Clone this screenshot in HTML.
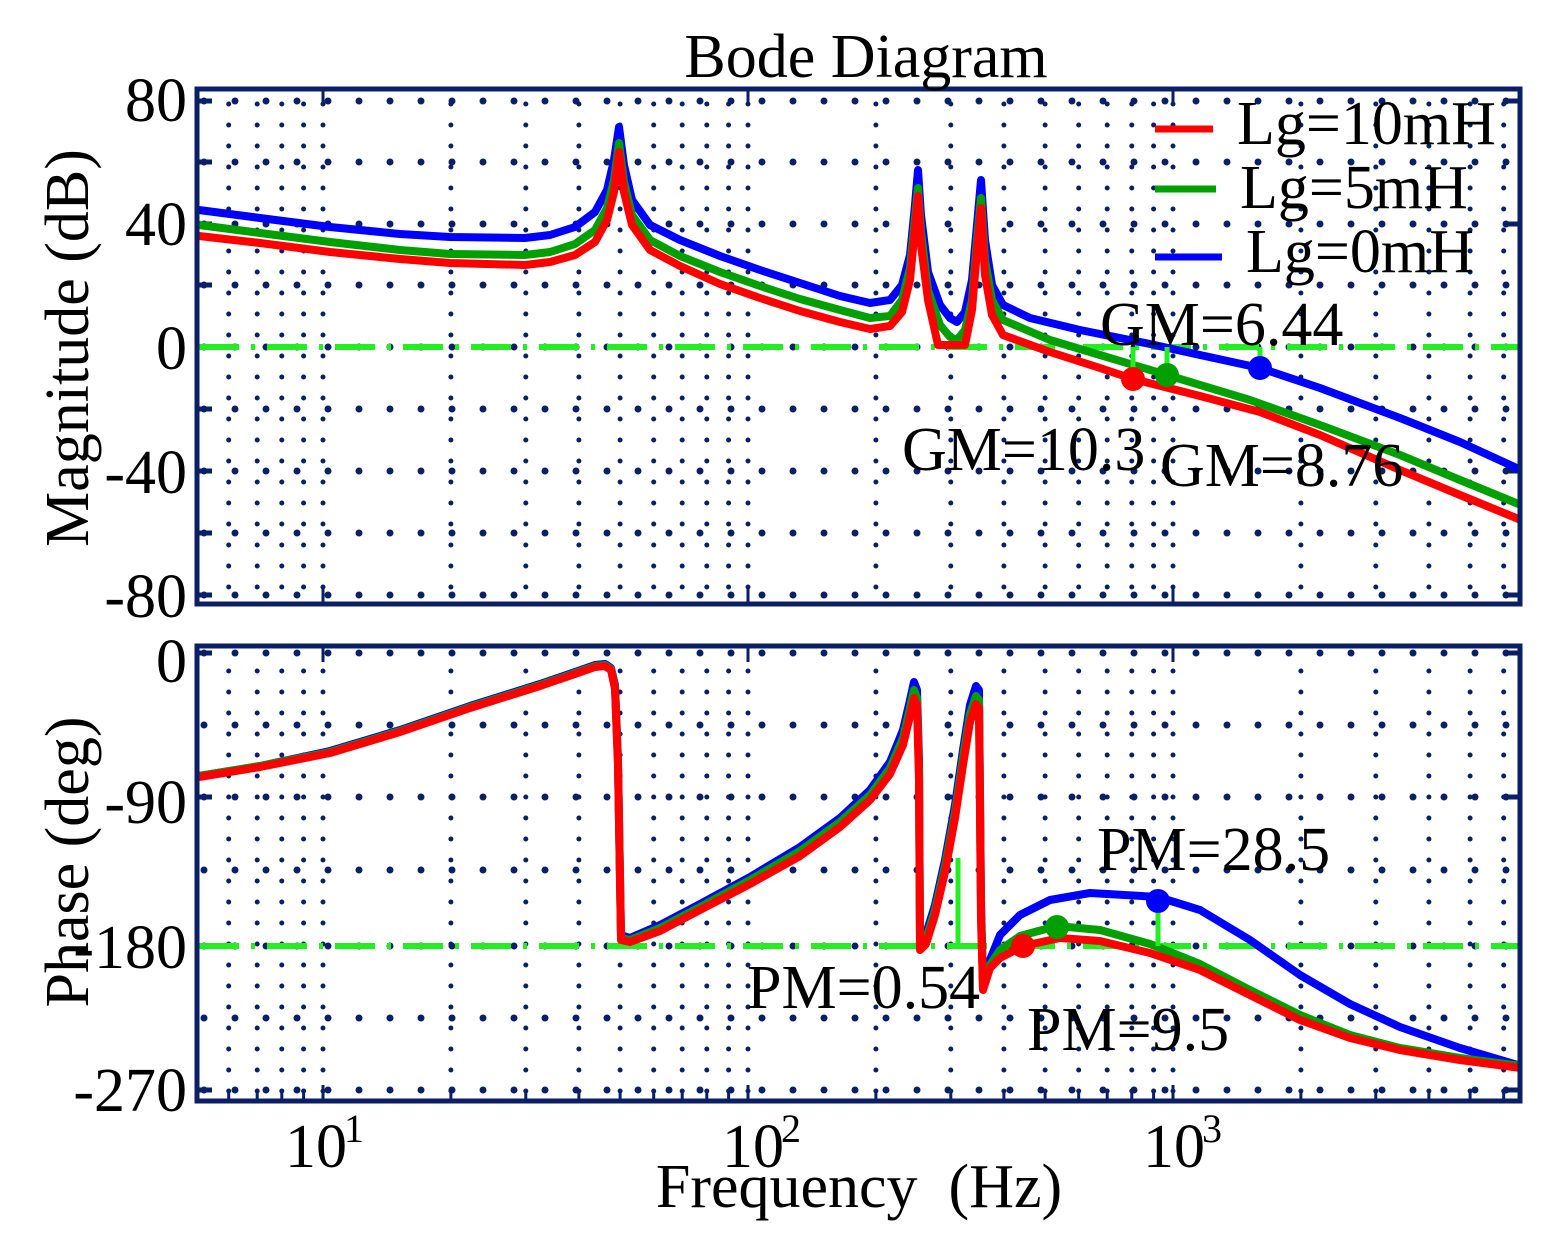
<!DOCTYPE html>
<html><head><meta charset="utf-8"><style>
html,body{margin:0;padding:0;background:#fff;}
svg{display:block;}
text{font-family:"Liberation Serif",serif;fill:#000;}
</style></head><body>
<svg width="1558" height="1253" viewBox="0 0 1558 1253" xmlns="http://www.w3.org/2000/svg">
<!-- vertical dotted grid -->
<g stroke="#0a1f66" stroke-width="5" stroke-linecap="round" stroke-dasharray="0 21">
<g>
<line x1="228.7" x2="228.7" y1="104" y2="602"/><line x1="257.2" x2="257.2" y1="104" y2="602"/><line x1="281.8" x2="281.8" y1="104" y2="602"/><line x1="303.6" x2="303.6" y1="104" y2="602"/>
<line x1="323" x2="323" y1="104" y2="602"/><line x1="450.9" x2="450.9" y1="104" y2="602"/><line x1="525.8" x2="525.8" y1="104" y2="602"/><line x1="578.9" x2="578.9" y1="104" y2="602"/><line x1="620.1" x2="620.1" y1="104" y2="602"/><line x1="653.7" x2="653.7" y1="104" y2="602"/><line x1="682.2" x2="682.2" y1="104" y2="602"/><line x1="706.8" x2="706.8" y1="104" y2="602"/><line x1="728.6" x2="728.6" y1="104" y2="602"/>
<line x1="748" x2="748" y1="104" y2="602"/><line x1="875.9" x2="875.9" y1="104" y2="602"/><line x1="950.8" x2="950.8" y1="104" y2="602"/><line x1="1003.9" x2="1003.9" y1="104" y2="602"/><line x1="1045.1" x2="1045.1" y1="104" y2="602"/><line x1="1078.7" x2="1078.7" y1="104" y2="602"/><line x1="1107.2" x2="1107.2" y1="104" y2="602"/><line x1="1131.8" x2="1131.8" y1="104" y2="602"/><line x1="1153.6" x2="1153.6" y1="104" y2="602"/>
<line x1="1173" x2="1173" y1="104" y2="602"/><line x1="1300.9" x2="1300.9" y1="104" y2="602"/><line x1="1375.8" x2="1375.8" y1="104" y2="602"/><line x1="1428.9" x2="1428.9" y1="104" y2="602"/><line x1="1470.1" x2="1470.1" y1="104" y2="602"/><line x1="1503.7" x2="1503.7" y1="104" y2="602"/>
</g>
<g>
<line x1="228.7" x2="228.7" y1="671" y2="1099"/><line x1="257.2" x2="257.2" y1="671" y2="1099"/><line x1="281.8" x2="281.8" y1="671" y2="1099"/><line x1="303.6" x2="303.6" y1="671" y2="1099"/>
<line x1="323" x2="323" y1="671" y2="1099"/><line x1="450.9" x2="450.9" y1="671" y2="1099"/><line x1="525.8" x2="525.8" y1="671" y2="1099"/><line x1="578.9" x2="578.9" y1="671" y2="1099"/><line x1="620.1" x2="620.1" y1="671" y2="1099"/><line x1="653.7" x2="653.7" y1="671" y2="1099"/><line x1="682.2" x2="682.2" y1="671" y2="1099"/><line x1="706.8" x2="706.8" y1="671" y2="1099"/><line x1="728.6" x2="728.6" y1="671" y2="1099"/>
<line x1="748" x2="748" y1="671" y2="1099"/><line x1="875.9" x2="875.9" y1="671" y2="1099"/><line x1="950.8" x2="950.8" y1="671" y2="1099"/><line x1="1003.9" x2="1003.9" y1="671" y2="1099"/><line x1="1045.1" x2="1045.1" y1="671" y2="1099"/><line x1="1078.7" x2="1078.7" y1="671" y2="1099"/><line x1="1107.2" x2="1107.2" y1="671" y2="1099"/><line x1="1131.8" x2="1131.8" y1="671" y2="1099"/><line x1="1153.6" x2="1153.6" y1="671" y2="1099"/>
<line x1="1173" x2="1173" y1="671" y2="1099"/><line x1="1300.9" x2="1300.9" y1="671" y2="1099"/><line x1="1375.8" x2="1375.8" y1="671" y2="1099"/><line x1="1428.9" x2="1428.9" y1="671" y2="1099"/><line x1="1470.1" x2="1470.1" y1="671" y2="1099"/><line x1="1503.7" x2="1503.7" y1="671" y2="1099"/>
</g>
</g>
<!-- bottom/top minor ticks -->
<g stroke="#0a1f66" stroke-width="3">
<line x1="228.7" x2="228.7" y1="1101" y2="1092"/><line x1="257.2" x2="257.2" y1="1101" y2="1092"/><line x1="281.8" x2="281.8" y1="1101" y2="1092"/><line x1="303.6" x2="303.6" y1="1101" y2="1092"/>
<line x1="323" x2="323" y1="1101" y2="1085"/><line x1="450.9" x2="450.9" y1="1101" y2="1092"/><line x1="525.8" x2="525.8" y1="1101" y2="1092"/><line x1="578.9" x2="578.9" y1="1101" y2="1092"/><line x1="620.1" x2="620.1" y1="1101" y2="1092"/><line x1="653.7" x2="653.7" y1="1101" y2="1092"/><line x1="682.2" x2="682.2" y1="1101" y2="1092"/><line x1="706.8" x2="706.8" y1="1101" y2="1092"/><line x1="728.6" x2="728.6" y1="1101" y2="1092"/>
<line x1="748" x2="748" y1="1101" y2="1085"/><line x1="875.9" x2="875.9" y1="1101" y2="1092"/><line x1="950.8" x2="950.8" y1="1101" y2="1092"/><line x1="1003.9" x2="1003.9" y1="1101" y2="1092"/><line x1="1045.1" x2="1045.1" y1="1101" y2="1092"/><line x1="1078.7" x2="1078.7" y1="1101" y2="1092"/><line x1="1107.2" x2="1107.2" y1="1101" y2="1092"/><line x1="1131.8" x2="1131.8" y1="1101" y2="1092"/><line x1="1153.6" x2="1153.6" y1="1101" y2="1092"/>
<line x1="1173" x2="1173" y1="1101" y2="1085"/><line x1="1300.9" x2="1300.9" y1="1101" y2="1092"/><line x1="1375.8" x2="1375.8" y1="1101" y2="1092"/><line x1="1428.9" x2="1428.9" y1="1101" y2="1092"/><line x1="1470.1" x2="1470.1" y1="1101" y2="1092"/><line x1="1503.7" x2="1503.7" y1="1101" y2="1092"/>
<line x1="323" x2="323" y1="604" y2="588"/><line x1="748" x2="748" y1="604" y2="588"/><line x1="1173" x2="1173" y1="604" y2="588"/>
<line x1="323" x2="323" y1="646" y2="662"/><line x1="748" x2="748" y1="646" y2="662"/><line x1="1173" x2="1173" y1="646" y2="662"/>
<line x1="323" x2="323" y1="89" y2="105"/><line x1="748" x2="748" y1="89" y2="105"/><line x1="1173" x2="1173" y1="89" y2="105"/>
</g>
<!-- horizontal dotted grid -->
<g stroke="#0a1f66" stroke-width="7" stroke-linecap="round" stroke-dasharray="0 31">
<line x1="204" y1="101" x2="1518" y2="101"/><line x1="204" y1="162" x2="1518" y2="162"/><line x1="204" y1="224" x2="1518" y2="224"/><line x1="204" y1="285" x2="1518" y2="285"/><line x1="204" y1="347" x2="1518" y2="347"/><line x1="204" y1="409" x2="1518" y2="409"/><line x1="204" y1="471" x2="1518" y2="471"/><line x1="204" y1="533" x2="1518" y2="533"/><line x1="204" y1="595" x2="1518" y2="595"/>
<line x1="204" y1="653" x2="1518" y2="653"/><line x1="204" y1="725" x2="1518" y2="725"/><line x1="204" y1="797" x2="1518" y2="797"/><line x1="204" y1="870" x2="1518" y2="870"/><line x1="204" y1="946" x2="1518" y2="946"/><line x1="204" y1="1018" x2="1518" y2="1018"/><line x1="204" y1="1090" x2="1518" y2="1090"/>
</g>
<g stroke="#0a1f66" stroke-width="5">
<line x1="197" y1="101" x2="212" y2="101"/><line x1="197" y1="162" x2="212" y2="162"/><line x1="197" y1="224" x2="212" y2="224"/><line x1="197" y1="285" x2="212" y2="285"/><line x1="197" y1="347" x2="212" y2="347"/><line x1="197" y1="409" x2="212" y2="409"/><line x1="197" y1="471" x2="212" y2="471"/><line x1="197" y1="533" x2="212" y2="533"/><line x1="197" y1="595" x2="212" y2="595"/>
<line x1="197" y1="653" x2="212" y2="653"/><line x1="197" y1="797" x2="212" y2="797"/><line x1="197" y1="946" x2="212" y2="946"/><line x1="197" y1="1090" x2="212" y2="1090"/>
<line x1="1505" y1="101" x2="1520" y2="101"/><line x1="1505" y1="224" x2="1520" y2="224"/><line x1="1505" y1="347" x2="1520" y2="347"/><line x1="1505" y1="471" x2="1520" y2="471"/><line x1="1505" y1="595" x2="1520" y2="595"/>
<line x1="1505" y1="653" x2="1520" y2="653"/><line x1="1505" y1="797" x2="1520" y2="797"/><line x1="1505" y1="946" x2="1520" y2="946"/><line x1="1505" y1="1090" x2="1520" y2="1090"/>
</g>
<!-- zero lines -->
<g stroke="#22ee22" stroke-width="6" fill="none" stroke-dasharray="40 12 4 12">
<line x1="199" y1="347" x2="1519" y2="347"/>
<line x1="199" y1="946" x2="1519" y2="946"/>
</g>
<!-- magnitude curves -->
<g fill="none" stroke-width="8" stroke-linejoin="round">
<polyline stroke="#0000ff" points="199,210 260,218 330,227 400,234 450,237 525,238 550,235 575,227 595,212 607,190 614,160 619,127 624,165 632,200 650,225 680,240 720,256 760,270 800,283 840,296 870,303 890,300 902,285 910,255 915,205 918,170 921,215 928,272 940,305 950,318 957,322 965,312 972,280 977,225 981,180 985,240 992,285 1003,305 1030,318 1080,330 1150,344 1200,355 1260,368 1320,388 1400,418 1460,442 1521,470"/>
<polyline stroke="#00a000" points="199,225 260,233 330,242 400,250 450,254 525,255 550,252 575,244 595,230 607,208 614,180 619,143 624,182 632,215 650,240 680,256 720,272 760,286 800,299 840,310 870,318 890,316 902,300 910,268 915,218 918,188 921,232 928,290 940,325 950,337 957,340 965,330 972,300 977,240 981,198 985,260 992,300 1003,320 1050,340 1100,355 1167,375 1250,400 1320,425 1400,455 1460,480 1521,505"/>
<polyline stroke="#ff0000" points="199,236 260,243 330,252 400,259 450,263 525,265 550,262 575,255 595,242 607,220 614,192 619,152 624,192 632,225 650,250 680,266 720,284 760,298 800,311 840,322 870,329 890,326 902,312 910,280 915,228 918,196 921,245 928,300 938,345 965,345 972,310 977,250 981,208 985,275 992,315 1003,335 1050,352 1100,368 1133,379 1200,396 1260,412 1320,435 1400,470 1460,495 1521,520"/>
</g>
<!-- phase curves -->
<g fill="none" stroke-width="8" stroke-linejoin="round">
<polyline stroke="#0000ff" points="199,776 260,766 330,751 400,730 470,706 540,684 575,672 595,665 605,664 611,668 615,685 618,760 621,935 630,938 660,925 700,904 750,877 800,847 840,818 870,790 890,762 903,730 910,700 914,682 917,690 919,760 920,940 926,934 935,905 945,860 955,805 963,750 970,705 976,686 979,690 981,900 983,985 990,960 1000,935 1020,915 1050,900 1090,893 1158,897 1200,910 1250,940 1300,975 1350,1004 1400,1027 1460,1048 1521,1066"/>
<polyline stroke="#00a000" points="199,776 260,766 330,752 400,731 470,707 540,685 575,673 595,666 605,665 611,669 615,687 618,763 621,938 630,940 660,928 700,907 750,880 800,851 840,822 870,795 890,768 903,738 910,708 914,690 917,698 919,770 920,945 926,939 935,910 945,866 955,812 963,757 970,714 976,696 979,700 981,910 983,988 990,965 1000,950 1020,936 1057,926 1100,930 1150,944 1200,964 1250,990 1300,1015 1350,1035 1400,1048 1460,1058 1521,1066"/>
<polyline stroke="#ff0000" points="199,777 260,767 330,753 400,732 470,708 540,686 575,674 595,667 605,666 611,670 615,689 618,766 621,940 630,942 660,931 700,910 750,884 800,856 840,827 870,800 890,774 903,745 910,716 914,698 917,706 919,780 920,950 926,944 935,915 945,872 955,818 963,765 970,722 976,704 979,708 981,920 983,990 990,968 1000,958 1023,946 1060,938 1100,941 1150,953 1200,970 1250,995 1300,1020 1350,1038 1400,1050 1460,1060 1521,1068"/>
</g>
<!-- stems and markers -->
<g stroke="#22ee22" stroke-width="5">
<line x1="1133" y1="347" x2="1133" y2="379"/>
<line x1="1167" y1="347" x2="1167" y2="375"/>
<line x1="1260" y1="347" x2="1260" y2="368"/>
<line x1="1158" y1="901" x2="1158" y2="946"/>
<line x1="958" y1="858" x2="958" y2="946"/>
</g>
<circle cx="1133" cy="379" r="12" fill="#ff0000"/>
<circle cx="1167" cy="375" r="12" fill="#00a000"/>
<circle cx="1260" cy="368" r="12" fill="#0000ff"/>
<circle cx="1023" cy="946" r="12" fill="#ff0000"/>
<circle cx="1057" cy="927" r="12" fill="#00a000"/>
<circle cx="1158" cy="901" r="12" fill="#0000ff"/>
<!-- axes boxes -->
<g fill="none" stroke="#0a1f66" stroke-width="5">
<rect x="197" y="89" width="1323" height="515"/>
<rect x="197" y="646" width="1323" height="455"/>
</g>
<!-- legend -->
<g stroke-width="7">
<line x1="1155" y1="129" x2="1213" y2="129" stroke="#ff0000"/>
<line x1="1155" y1="189" x2="1216" y2="189" stroke="#00a000"/>
<line x1="1155" y1="257" x2="1222" y2="257" stroke="#0000ff"/>
</g>
<g font-size="62">
<text x="1237" y="144">Lg=10mH</text>
<text x="1240" y="208">Lg=5mH</text>
<text x="1246" y="272">Lg=0mH</text>
<text x="866" y="77" text-anchor="middle">Bode Diagram</text>
<text x="187" y="121" text-anchor="end">80</text>
<text x="187" y="245" text-anchor="end">40</text>
<text x="187" y="369" text-anchor="end">0</text>
<text x="187" y="493" text-anchor="end">-40</text>
<text x="187" y="617" text-anchor="end">-80</text>
<text x="187" y="682" text-anchor="end">0</text>
<text x="187" y="823" text-anchor="end">-90</text>
<text x="187" y="968" text-anchor="end">-180</text>
<text x="187" y="1111" text-anchor="end">-270</text>
<text x="285" y="1167">10</text><text x="344" y="1142" font-size="40">1</text>
<text x="722" y="1167">10</text><text x="781" y="1142" font-size="40">2</text>
<text x="1143" y="1167">10</text><text x="1202" y="1142" font-size="40">3</text>
<text x="859" y="1207" text-anchor="middle" xml:space="preserve">Frequency  (Hz)</text>
<text transform="translate(88,348) rotate(-90)" text-anchor="middle">Magnitude (dB)</text>
<text transform="translate(88,862) rotate(-90)" text-anchor="middle">Phase (deg)</text>
<text x="1100" y="345">GM=6.44</text>
<text x="902" y="470">GM=10.3</text>
<text x="1160" y="486">GM=8.76</text>
<text x="1097" y="870">PM=28.5</text>
<text x="747" y="1008">PM=0.54</text>
<text x="1027" y="1050">PM=9.5</text>
</g>
</svg>
</body></html>
